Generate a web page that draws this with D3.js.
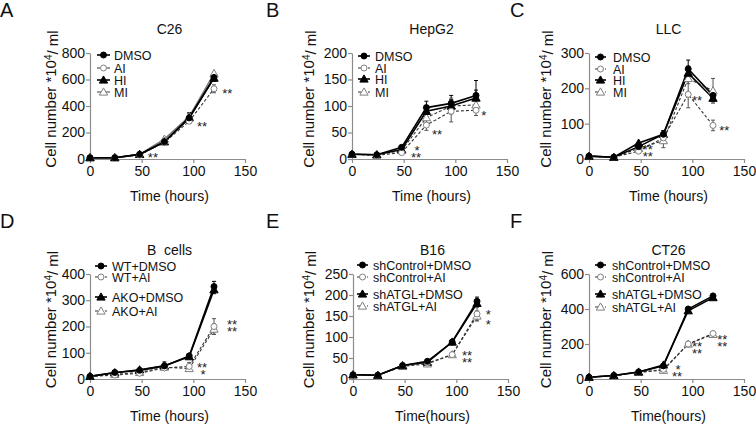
<!DOCTYPE html>
<html><head><meta charset="utf-8">
<script src="https://cdn.jsdelivr.net/npm/d3@7"></script>
<style>
html,body{margin:0;padding:0;background:#fff;}
svg{display:block;font-family:"Liberation Sans",Arial,sans-serif;}
</style></head>
<body>
<svg id="chart" width="756" height="424"></svg>
<script>
// ---------- DATA ----------
const time = [0, 24, 48, 72, 96, 120];
const xTicks = [0, 50, 100, 150];

// A: C26
const aDMSO = [10, 10, 35, 130, 310, 615], aDMSOerr = [2, 2, 5, 10, 40, 30];
const aAI   = [10, 10, 30, 125, 285, 530], aAIerr   = [2, 2, 5, 10, 20, 30];
const aHI   = [10, 10, 35, 130, 310, 610], aHIerr   = [2, 2, 5, 10, 30, 25];
const aMI   = [10, 10, 35, 150, 320, 645], aMIerr   = [2, 2, 5, 15, 20, 25];
const aYTicks = [0, 200, 400, 600, 800];
const aStars = [{t: 56, v: 30, s: ["**"]}, {t: 103.5, v: 264, s: ["**"]}, {t: 128, v: 513, s: ["**"]}];

// B: HepG2
const bDMSO = [9, 8, 22, 97, 105, 120], bDMSOerr = [1, 1, 3, 12, 15, 28];
const bAI   = [9, 7, 12, 64, 90, 92],   bAIerr   = [1, 1, 2, 10, 20, 10];
const bHI   = [9, 8, 18, 90, 100, 115], bHIerr   = [1, 1, 3, 10, 12, 15];
const bMI   = [9, 8, 16, 78, 100, 102], bMIerr   = [1, 1, 2, 12, 15, 10];
const bYTicks = [0, 50, 100, 150, 200];
const bStars = [{t: 57, v: 21, s: [" *", "**"]}, {t: 77.4, v: 51, s: ["**"]}, {t: 125, v: 87, s: ["*"]}];

// C: LLC
const cDMSO = [8, 5, 35, 70, 255, 180], cDMSOerr = [2, 1, 5, 10, 25, 10];
const cAI   = [8, 5, 22, 60, 183, 95],  cAIerr   = [2, 1, 5, 15, 38, 15];
const cHI   = [8, 5, 45, 70, 243, 172], cHIerr   = [2, 1, 6, 10, 20, 10];
const cMI   = [8, 5, 30, 52, 228, 193], cMIerr   = [2, 1, 5, 20, 15, 35];
const cYTicks = [0, 100, 200, 300];
const cStars = [{t: 52, v: 34, s: ["**", "**"]}, {t: 99.7, v: 172, s: ["**"]}, {t: 126, v: 88, s: ["**"]}];

// D: B cells
const dWTD   = [10, 25, 33, 50, 88, 352],  dWTDerr   = [2, 3, 4, 15, 10, 20];
const dWTAI  = [10, 15, 22, 42, 48, 200],  dWTAIerr  = [2, 3, 4, 10, 15, 30];
const dAKOD  = [10, 24, 35, 50, 85, 340],  dAKODerr  = [2, 3, 4, 12, 10, 15];
const dAKOAI = [10, 18, 25, 45, 40, 190],  dAKOAIerr = [2, 3, 4, 10, 10, 20];
const dYTicks = [0, 100, 200, 300, 400];
const dStars = [{t: 103.5, v: 53, s: ["**", " *"]}, {t: 132.6, v: 217, s: ["**", "**"]}];

// E: B16
const eCD  = [10, 9, 32, 42, 88, 185],  eCDerr  = [1, 1, 2, 3, 4, 10];
const eCAI = [10, 9, 32, 38, 58, 155],  eCAIerr = [1, 1, 2, 3, 4, 15];
const eAD  = [10, 9, 32, 40, 88, 180],  eADerr  = [1, 1, 2, 3, 4, 8];
const eAAI = [10, 9, 30, 36, 58, 150],  eAAIerr = [1, 1, 2, 3, 4, 12];
const eYTicks = [0, 50, 100, 150, 200, 250];
const eStars = [{t: 105.5, v: 62, s: ["**", "**"]}, {t: 128.4, v: 160, s: ["*", "*"], gap: 10}];

// F: CT26
const fCD  = [10, 20, 40, 75, 400, 475],  fCDerr  = [2, 3, 4, 8, 15, 15];
const fCAI = [10, 20, 38, 55, 200, 260],  fCAIerr = [2, 3, 4, 6, 10, 10];
const fAD  = [10, 20, 40, 80, 390, 465],  fADerr  = [2, 3, 4, 8, 15, 15];
const fAAI = [10, 18, 38, 50, 200, 255],  fAAIerr = [2, 3, 4, 6, 10, 10];
const fYTicks = [0, 200, 400, 600];
const fStars = [{t: 80.3, v: 68, s: [" *", "**"]}, {t: 99.7, v: 200, s: ["**", "**"]}, {t: 124, v: 240, s: ["**", "**"]}];

// ---------- STYLES ----------
const S = {
  fillC:  {marker: "circle",   filled: true,  dash: null,  color: "#000", w: 1.6},
  openC:  {marker: "circle",   filled: false, dash: "3,2", color: "#333", w: 1.1},
  fillT:  {marker: "triangle", filled: true,  dash: null,  color: "#000", w: 1.6},
  openTs: {marker: "triangle", filled: false, dash: null,  color: "#777", w: 1.4},
  openT:  {marker: "triangle", filled: false, dash: "3,2", color: "#333", w: 1.1}
};
const AXIS = "#8c8c8c";
const OPEN = "#808080";

// ---------- PANELS (layout) ----------
const panels = [
  {letter: "A", lx: 0, ly: 17, title: "C26", left: 90, top: 53, bottom: 159, ymax: 800, yticks: aYTicks,
   xtitle: "Time (hours)", ytx: 56, stars: aStars,
   legend: {x1: 97, x2: 110, tx: 114, ys: [55, 68, 80, 92]},
   series: [
     {name: "DMSO", v: aDMSO, e: aDMSOerr, st: S.fillC},
     {name: "AI", v: aAI, e: aAIerr, st: S.openC},
     {name: "HI", v: aHI, e: aHIerr, st: S.fillT},
     {name: "MI", v: aMI, e: aMIerr, st: S.openTs}]},
  {letter: "B", lx: 266, ly: 17, title: "HepG2", left: 352, top: 53, bottom: 159, ymax: 200, yticks: bYTicks,
   xtitle: "Time (hours)", ytx: 314, stars: bStars,
   legend: {x1: 358, x2: 370, tx: 375, ys: [56, 68, 79, 92]},
   series: [
     {name: "DMSO", v: bDMSO, e: bDMSOerr, st: S.fillC},
     {name: "AI", v: bAI, e: bAIerr, st: S.openC},
     {name: "HI", v: bHI, e: bHIerr, st: S.fillT},
     {name: "MI", v: bMI, e: bMIerr, st: S.openT}]},
  {letter: "C", lx: 510, ly: 17, title: "LLC", left: 589, top: 53, bottom: 159, ymax: 300, yticks: cYTicks,
   xtitle: "Time (hours)", ytx: 551, stars: cStars,
   legend: {x1: 595, x2: 606, tx: 613, ys: [57, 69, 80, 92]},
   series: [
     {name: "DMSO", v: cDMSO, e: cDMSOerr, st: S.fillC},
     {name: "AI", v: cAI, e: cAIerr, st: S.openC},
     {name: "HI", v: cHI, e: cHIerr, st: S.fillT},
     {name: "MI", v: cMI, e: cMIerr, st: S.openT}]},
  {letter: "D", lx: 0, ly: 228, title: "B  cells", left: 90, top: 274, bottom: 379, ymax: 400, yticks: dYTicks,
   xtitle: "Time (hours)", ytx: 56, stars: dStars,
   legend: {x1: 95, x2: 107, tx: 112, ys: [266, 277, 297, 311]},
   series: [
     {name: "WT+DMSO", v: dWTD, e: dWTDerr, st: S.fillC},
     {name: "WT+AI", v: dWTAI, e: dWTAIerr, st: S.openC},
     {name: "AKO+DMSO", v: dAKOD, e: dAKODerr, st: S.fillT},
     {name: "AKO+AI", v: dAKOAI, e: dAKOAIerr, st: S.openT}]},
  {letter: "E", lx: 266, ly: 228, title: "B16", left: 353, top: 274, bottom: 379, ymax: 250, yticks: eYTicks,
   xtitle: "Time(hours)", ytx: 314, stars: eStars,
   legend: {x1: 357, x2: 368, tx: 373, ys: [265, 277, 294, 306]},
   series: [
     {name: "shControl+DMSO", v: eCD, e: eCDerr, st: S.fillC},
     {name: "shControl+AI", v: eCAI, e: eCAIerr, st: S.openC},
     {name: "shATGL+DMSO", v: eAD, e: eADerr, st: S.fillT},
     {name: "shATGL+AI", v: eAAI, e: eAAIerr, st: S.openT}]},
  {letter: "F", lx: 510, ly: 228, title: "CT26", left: 589, top: 274, bottom: 379, ymax: 600, yticks: fYTicks,
   xtitle: "Time(hours)", ytx: 551, stars: fStars,
   legend: {x1: 595, x2: 606, tx: 612, ys: [265, 277, 294, 307]},
   series: [
     {name: "shControl+DMSO", v: fCD, e: fCDerr, st: S.fillC},
     {name: "shControl+AI", v: fCAI, e: fCAIerr, st: S.openC},
     {name: "shATGL+DMSO", v: fAD, e: fADerr, st: S.fillT},
     {name: "shATGL+AI", v: fAAI, e: fAAIerr, st: S.openT}]}
];

const svg = d3.select("#chart");

function drawMarker(g, st, cx, cy) {
  const fill = st.filled ? "#000" : "#fff";
  const stroke = st.filled ? "#000" : OPEN;
  if (st.marker === "circle") {
    g.append("circle").attr("cx", cx).attr("cy", cy).attr("r", 3)
      .attr("fill", fill).attr("stroke", stroke).attr("stroke-width", 1);
  } else {
    g.append("path").attr("d", d3.symbol(d3.symbolTriangle, 30)())
      .attr("transform", `translate(${cx},${cy + 0.7})`)
      .attr("fill", fill).attr("stroke", stroke).attr("stroke-width", 1);
  }
}

panels.forEach(p => {
  const W = 155;
  const x = d3.scaleLinear().domain([0, 150]).range([p.left, p.left + W]);
  const y = d3.scaleLinear().domain([0, p.ymax]).range([p.bottom, p.top]);
  const g = svg.append("g");

  // axes
  const xa = g.append("g").attr("transform", `translate(0,${p.bottom})`)
    .call(d3.axisBottom(x).tickValues(xTicks).tickSize(4).tickSizeOuter(0).tickPadding(3));
  const ya = g.append("g").attr("transform", `translate(${p.left},0)`)
    .call(d3.axisLeft(y).tickValues(p.yticks).tickSize(4).tickSizeOuter(0).tickPadding(1));
  [xa, ya].forEach(a => {
    a.select(".domain").attr("stroke", AXIS).attr("stroke-width", 1.2);
    a.selectAll(".tick line").attr("stroke", AXIS).attr("stroke-width", 1.2);
    a.selectAll(".tick text").attr("fill", "#111").style("font-size", "14px")
      .style("font-family", '"Liberation Sans",Arial,sans-serif');
  });

  // panel letter
  g.append("text").attr("x", p.lx).attr("y", p.ly).text(p.letter)
    .style("font-size", "20px").attr("fill", "#111");
  // title
  g.append("text").attr("x", p.left + W / 2 + 2).attr("y", p.top - 19).attr("text-anchor", "middle")
    .text(p.title).style("font-size", "14px").attr("fill", "#111").style("white-space", "pre");
  // x title
  g.append("text").attr("x", p.left + W / 2 + 2).attr("y", p.bottom + 42).attr("text-anchor", "middle")
    .text(p.xtitle).style("font-size", "14px").attr("fill", "#111");
  // y title
  const cy = (p.top + p.bottom) / 2 - 7;
  const yt = g.append("text").attr("transform", `translate(${p.ytx},${cy}) rotate(-90)`)
    .attr("text-anchor", "middle").style("font-size", "15px").attr("fill", "#111");
  yt.append("tspan").text("Cell number *10");
  yt.append("tspan").attr("dy", "-0.45em").style("font-size", "10px").text("4");
  yt.append("tspan").attr("dy", "0.45em").text("/ ml");

  // series lines
  const line = d3.line().x((d, i) => x(time[i])).y(d => y(d));
  p.series.slice().reverse().forEach(s => {
    g.append("path").datum(s.v).attr("d", line).attr("fill", "none")
      .attr("stroke", s.st.color).attr("stroke-width", s.st.w)
      .attr("stroke-dasharray", s.st.dash);
  });
  // error bars
  p.series.forEach(s => {
    const col = s.st.filled ? "#000" : "#555";
    s.v.forEach((v, i) => {
      const e = s.e[i];
      if (y(v - e) - y(v + e) < 7) return;
      const cx = x(time[i]);
      g.append("line").attr("x1", cx).attr("x2", cx).attr("y1", y(v - e)).attr("y2", y(v + e))
        .attr("stroke", col).attr("stroke-width", 1);
      [v - e, v + e].forEach(b => {
        g.append("line").attr("x1", cx - 2).attr("x2", cx + 2).attr("y1", y(b)).attr("y2", y(b))
          .attr("stroke", col).attr("stroke-width", 1);
      });
    });
  });
  // markers
  p.series.slice().reverse().forEach(s => {
    s.v.forEach((v, i) => drawMarker(g, s.st, x(time[i]), y(v)));
  });

  // stars (stacked rows drawn as one text element)
  p.stars.forEach(a => {
    const gap = a.gap || 7;
    const t = g.append("text").attr("x", x(a.t)).attr("y", y(a.v)).attr("dy", "0.55em")
      .style("font-size", "13px").attr("fill", "#222").style("white-space", "pre");
    a.s.forEach((row, k) => {
      t.append("tspan").attr("x", x(a.t)).attr("dy", k === 0 ? "0.55em" : gap).text(row);
    });
  });

  // legend
  const L = p.legend;
  p.series.forEach((s, i) => {
    const ly = L.ys[i];
    g.append("line").attr("x1", L.x1).attr("x2", L.x2).attr("y1", ly).attr("y2", ly)
      .attr("stroke", s.st.color).attr("stroke-width", s.st.w).attr("stroke-dasharray", s.st.dash);
    drawMarker(g, s.st, (L.x1 + L.x2) / 2, ly);
    g.append("text").attr("x", L.tx).attr("y", ly).attr("dy", "0.36em").text(s.name)
      .style("font-size", "12.5px").attr("fill", "#111");
  });
});
</script>
</body></html>
